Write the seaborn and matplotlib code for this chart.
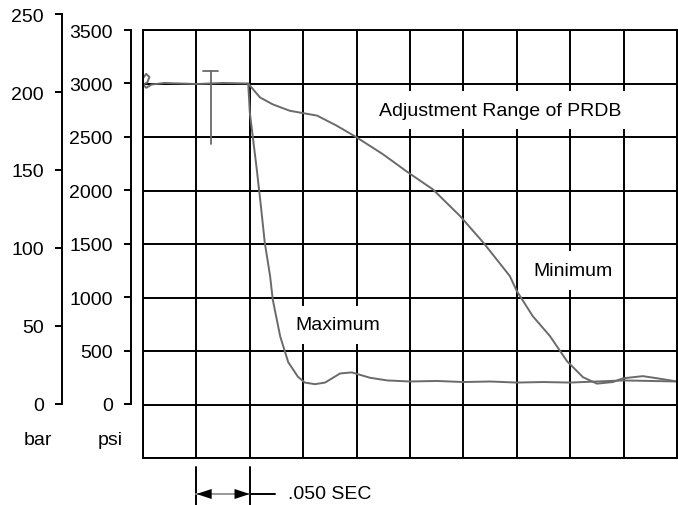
import matplotlib
matplotlib.use("Agg")
import matplotlib.pyplot as plt
import seaborn as sns
from matplotlib.transforms import blended_transform_factory

# time in seconds (one grid division = .050 s), pressure in psi
max_t = [0.0, 0.003, 0.006, 0.004, 0.0, 0.003, 0.008, 0.02, 0.05, 0.075, 0.0985,
         0.100, 0.1065, 0.110, 0.114, 0.119, 0.1215, 0.1285, 0.136, 0.145, 0.1515,
         0.161, 0.1705, 0.1845, 0.1955, 0.2125, 0.2285, 0.25, 0.275, 0.30, 0.325,
         0.35, 0.375, 0.40, 0.425, 0.45, 0.475, 0.50]
max_psi = [3050, 3090, 3060, 3010, 2990, 2960, 2990, 3005, 2995, 3005, 3000,
           2730, 2200, 1890, 1515, 1200, 980, 635, 395, 260, 205,
           190, 205, 290, 300, 250, 225, 215, 220, 210, 215,
           205, 210, 205, 215, 225, 220, 215]

min_t = [0.0985, 0.1095, 0.1215, 0.1375, 0.163, 0.1815, 0.1995, 0.2245, 0.248,
         0.2715, 0.297, 0.3185, 0.3435, 0.350, 0.365, 0.381, 0.397, 0.412, 0.425,
         0.440, 0.4495, 0.468, 0.4815, 0.50]
min_psi = [3000, 2870, 2805, 2745, 2700, 2605, 2500, 2340, 2170,
           2010, 1760, 1515, 1200, 1060, 825, 640, 405, 255, 195,
           210, 245, 265, 245, 215]

spike_t = [0.0635, 0.0635]
spike_psi = [3120, 2433]
cap_t = [0.056, 0.070]
cap_psi = [3120, 3120]

bar_ticks = [0, 50, 100, 150, 200, 250]
psi_ticks = [0, 500, 1000, 1500, 2000, 2500, 3000, 3500]
grid_t = [0.05 * i for i in range(11)]
grid_psi = [-500, 0, 500, 1000, 1500, 2000, 2500, 3000, 3500]

sns.set_style("white")
plt.rcParams['font.family'] = ['Liberation Sans', 'DejaVu Sans']
W, H = 678, 506
fig = plt.figure(figsize=(W / 100, H / 100), dpi=100)

ax = fig.add_axes([143 / W, (H - 459) / H, 534 / W, 428 / H])
ax.set_xlim(0, 0.5)
ax.set_ylim(-500, 3500)
ax.set_xticks(grid_t)
ax.set_yticks(grid_psi)
ax.tick_params(length=0, labelbottom=False, labelleft=False)
ax.grid(True, color="black", lw=1.4)
ax.set_axisbelow(True)
for s in ax.spines.values():
    s.set_color("black")
    s.set_linewidth(1.4)

line_col = "#6a6a6a"
sns.lineplot(x=max_t, y=max_psi, sort=False, estimator=None, color=line_col, lw=1.4, ax=ax)
sns.lineplot(x=min_t, y=min_psi, sort=False, estimator=None, color=line_col, lw=1.4, ax=ax)
sns.lineplot(x=spike_t, y=spike_psi, sort=False, estimator=None, color=line_col, lw=1.3, ax=ax)
sns.lineplot(x=cap_t, y=cap_psi, sort=False, estimator=None, color=line_col, lw=1.3, ax=ax)
ax.set_xlabel("")
ax.set_ylabel("")

box = dict(facecolor="white", edgecolor="none", boxstyle="square,pad=0.55")
ax.text(0.334, 2750, "Adjustment Range of PRDB", fontsize=14, ha="center", va="center", bbox=box, color="black")
ax.text(0.4025, 1254, "Minimum", fontsize=14, ha="center", va="center", bbox=box, color="black")
ax.text(0.1825, 744, "Maximum", fontsize=14, ha="center", va="center", bbox=box, color="black")

# bar axis
ax_bar = fig.add_axes([62 / W, (H - 405) / H, 0.0001, 390 / H])
ax_bar.set_ylim(0, 250)
ax_bar.set_yticks(bar_ticks)
ax_bar.set_xticks([])
# psi axis
ax_psi = fig.add_axes([131 / W, (H - 405) / H, 0.0001, 374 / H])
ax_psi.set_ylim(0, 3500)
ax_psi.set_yticks(psi_ticks)
ax_psi.set_xticks([])
for a in (ax_bar, ax_psi):
    a.patch.set_alpha(0)
    for k in ("top", "right", "bottom"):
        a.spines[k].set_visible(False)
    a.spines["left"].set_color("black")
    a.spines["left"].set_linewidth(1.4)
    a.tick_params(axis="y", direction="out", length=5, width=1.4, pad=8,
                  labelsize=14, colors="black", left=True)

fig.text(38 / W, 1 - 441 / H, "bar", fontsize=14, ha="center", va="center", color="black")
fig.text(110 / W, 1 - 441 / H, "psi", fontsize=14, ha="center", va="center", color="black")

# .050 SEC marker below the grid
tr = blended_transform_factory(ax.transData, fig.transFigure)
ya = 1 - 495 / H
for xv in (0.05, 0.10):
    ax.plot([xv, xv], [1 - 468 / H, 0], color="black", lw=1.4, transform=tr, clip_on=False)
ax.plot([0.05, 0.10], [ya, ya], color="#999999", lw=1.4, transform=tr, clip_on=False)
ax.plot([0.10, 0.1236], [ya, ya], color="black", lw=1.4, transform=tr, clip_on=False)
ax.annotate("", xy=(0.05, ya), xytext=(0.065, ya), xycoords=tr, textcoords=tr,
            arrowprops=dict(arrowstyle="-|>,head_length=0.55,head_width=0.18",
                            mutation_scale=20, color="black", lw=0, shrinkA=0, shrinkB=0))
ax.annotate("", xy=(0.10, ya), xytext=(0.085, ya), xycoords=tr, textcoords=tr,
            arrowprops=dict(arrowstyle="-|>,head_length=0.55,head_width=0.18",
                            mutation_scale=20, color="black", lw=0, shrinkA=0, shrinkB=0))
ax.text(0.136, ya, ".050 SEC", fontsize=14, ha="left", va="center", transform=tr, color="black")

fig.savefig("out.png", dpi=100)
